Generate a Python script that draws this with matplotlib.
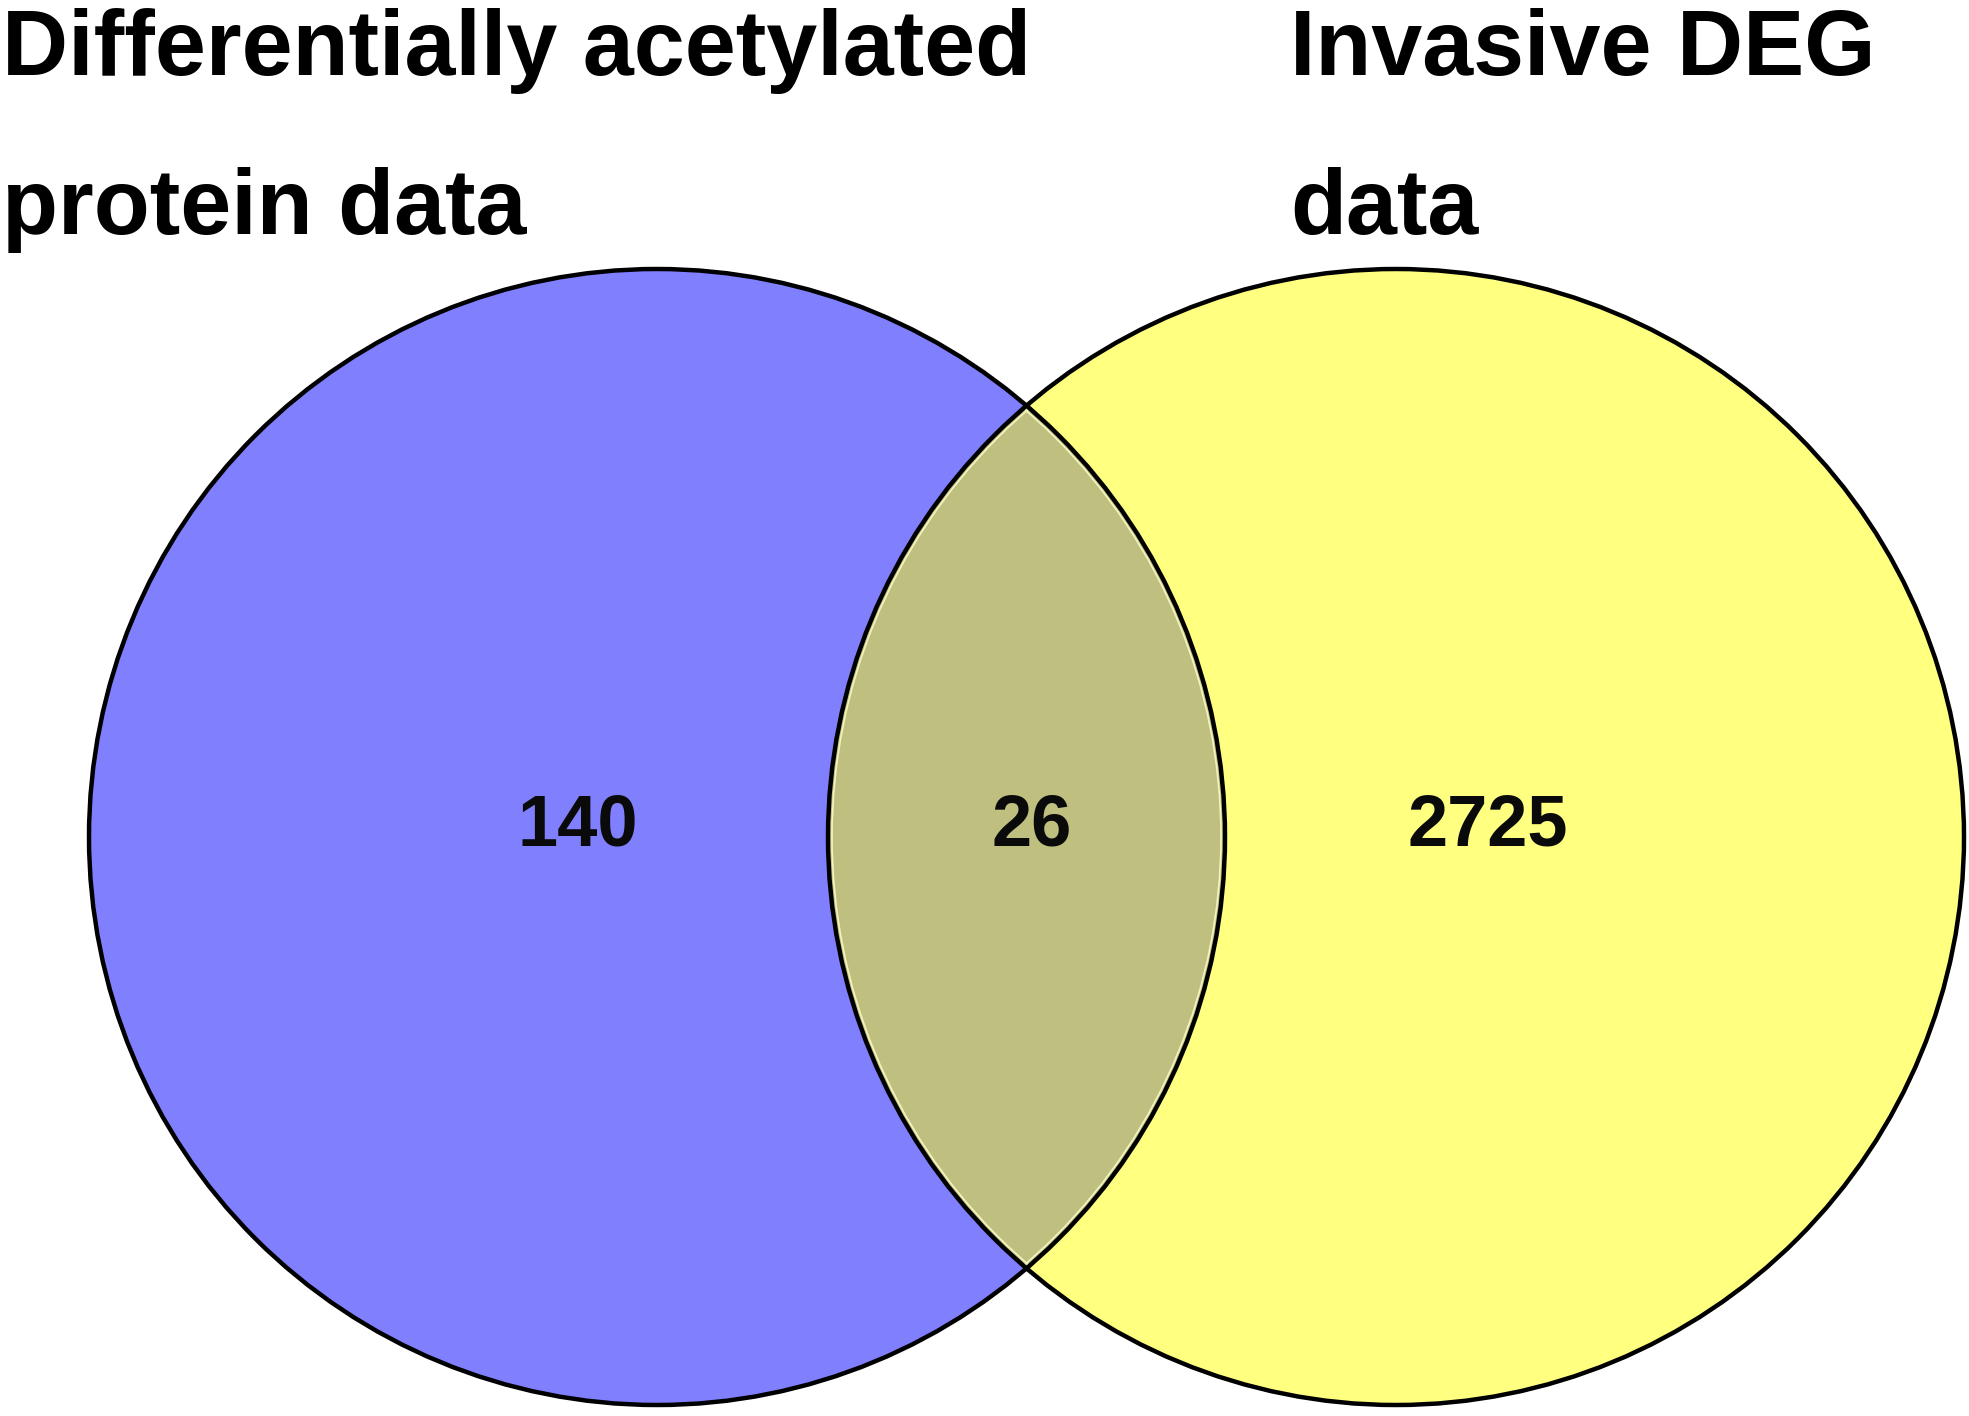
import matplotlib
matplotlib.use('Agg')
import matplotlib.pyplot as plt
from matplotlib.patches import Circle

# Venn counts
set_labels = ['Differentially acetylated\nprotein data', 'Invasive DEG\ndata']
only_left = 140
shared = 26
only_right = 2725

blue = '#8080ff'
yellow = '#ffff80'
overlap = '#bfbf80'

plt.rcParams['font.family'] = ['Liberation Sans', 'DejaVu Sans']

W, H = 1969, 1416
fig = plt.figure(figsize=(W / 100, H / 100), dpi=100)
ax = fig.add_axes([0, 0, 1, 1])
ax.set_xlim(0, W)
ax.set_ylim(H, 0)
ax.set_aspect('equal')
ax.axis('off')

# circle layout (pixels)
r = 568
cy = 837
centers = [657, 1396]

ax.add_patch(Circle((centers[0], cy), r, facecolor=blue, edgecolor='none'))
ax.add_patch(Circle((centers[1], cy), r, facecolor=yellow, edgecolor='none'))

# overlap region: left circle clipped by right circle
mid = Circle((centers[0], cy), r, facecolor=overlap, edgecolor='none')
ax.add_patch(mid)
mid.set_clip_path(Circle((centers[1], cy), r, transform=ax.transData))

# faint light rim just inside the overlap edges
for a, b in [(0, 1), (1, 0)]:
    rim = Circle((centers[a], cy), r - 4, facecolor='none',
                 edgecolor='#f4f4c0', lw=1.2)
    ax.add_patch(rim)
    rim.set_clip_path(Circle((centers[b], cy), r, transform=ax.transData))

for cx in centers:
    ax.add_patch(Circle((cx, cy), r, facecolor='none', edgecolor='black', lw=3.2))

# set titles
line_gap = 159
for lab, x in zip(set_labels, (2, 1290)):
    for i, line in enumerate(lab.split('\n')):
        ax.text(x, 75 + i * line_gap, line, ha='left', va='baseline',
                fontsize=66, fontweight='bold', color='black')

# region counts
num_y = 845
for val, x in zip([only_left, shared, only_right], (578, 1032, 1488)):
    ax.text(x, num_y, str(val), ha='center', va='baseline',
            fontsize=52, fontweight='bold', color='#0a0a0a')

fig.savefig('out.png', dpi=100)
